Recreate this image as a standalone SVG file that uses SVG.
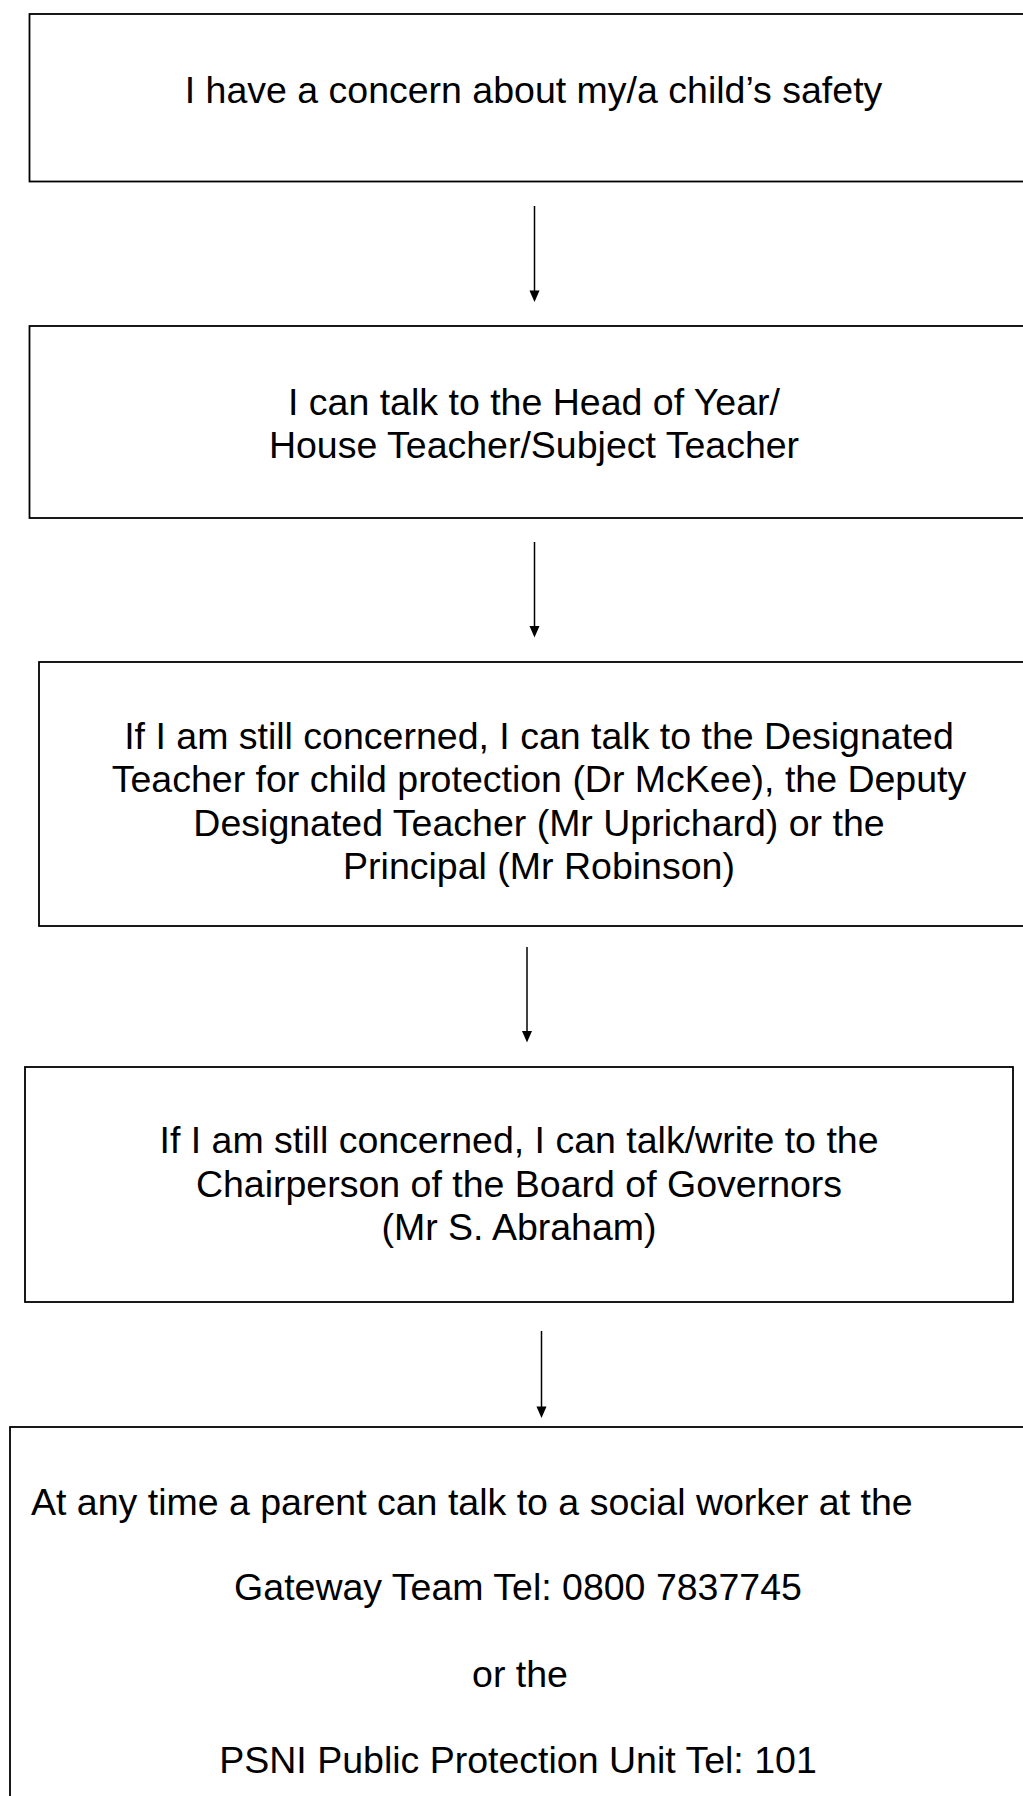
<svg xmlns="http://www.w3.org/2000/svg" width="1023" height="1796" viewBox="0 0 1023 1796">
<style>
.box{fill:#fff;stroke:#000;stroke-width:1.8}
.t{font-family:"Liberation Sans",Arial,sans-serif;font-size:37.5px;fill:#000;text-anchor:middle}
.l{text-anchor:start}
.c{stroke:#000;stroke-width:1.5;fill:none}
</style>
<defs>
<marker id="ah" viewBox="0 0 10 11" refX="5" refY="11" markerWidth="10" markerHeight="11" markerUnits="userSpaceOnUse" orient="auto-start-reverse">
<path d="M0,0 L10,0 L5,11 Z" fill="#000"/>
</marker>
</defs>
<rect width="1023" height="1796" fill="#fff"/>
<g id="connectors">
<path class="c" d="M534.5,206 V291"/><path d="M529.5,290.5 L539.5,290.5 L534.5,302 Z"/>
<path class="c" d="M534.5,542 V627"/><path d="M529.5,626 L539.5,626 L534.5,637.5 Z"/>
<path class="c" d="M527,947 V1032"/><path d="M522,1031 L532,1031 L527,1042.5 Z"/>
<path class="c" d="M541.5,1331 V1407"/><path d="M536.5,1406.5 L546.5,1406.5 L541.5,1418 Z"/>
</g>
<g id="node1">
<rect class="box" x="29.5" y="14" width="1010" height="167.5"/>
<text class="t" x="533.5" y="103">I have a concern about my/a child’s safety</text>
</g>
<g id="node2">
<rect class="box" x="29.5" y="326" width="1010" height="192"/>
<text class="t" x="534" y="415">I can talk to the Head of Year/</text>
<text class="t" x="534" y="458">House Teacher/Subject Teacher</text>
</g>
<g id="node3">
<rect class="box" x="39" y="662" width="1000" height="264"/>
<text class="t" x="539" y="749">If I am still concerned, I can talk to the Designated</text>
<text class="t" x="539" y="792">Teacher for child protection (Dr McKee), the Deputy</text>
<text class="t" x="539" y="836">Designated Teacher (Mr Uprichard) or the</text>
<text class="t" x="539" y="879">Principal (Mr Robinson)</text>
</g>
<g id="node4">
<rect class="box" x="25" y="1067" width="988" height="235"/>
<text class="t" x="519" y="1153">If I am still concerned, I can talk/write to the</text>
<text class="t" x="519" y="1197">Chairperson of the Board of Governors</text>
<text class="t" x="519" y="1240">(Mr S. Abraham)</text>
</g>
<g id="node5">
<rect class="box" x="10" y="1427" width="1030" height="400"/>
<text class="t l" x="31" y="1515">At any time a parent can talk to a social worker at the</text>
<text class="t" x="518" y="1600">Gateway Team Tel: 0800 7837745</text>
<text class="t" x="520" y="1687">or the</text>
<text class="t" x="518" y="1773">PSNI Public Protection Unit  Tel: 101</text>
</g>
</svg>
